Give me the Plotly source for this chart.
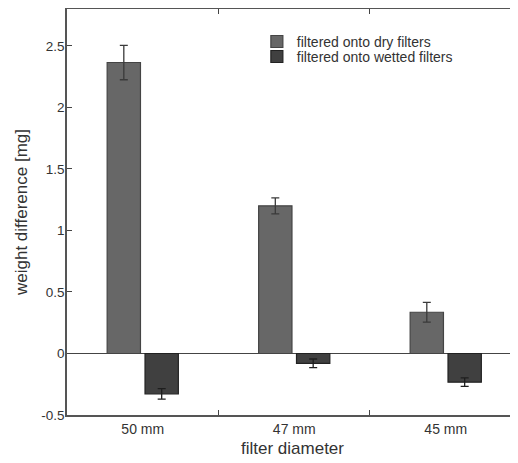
import plotly.graph_objects as go

# data
diameters = ["50 mm", "47 mm", "45 mm"]
dry_mean = [2.365, 1.20, 0.335]
dry_err = [0.14, 0.065, 0.08]
wet_mean = [-0.328, -0.08, -0.233]
wet_err = [0.043, 0.035, 0.035]
y_ticks = [-0.5, 0, 0.5, 1, 1.5, 2, 2.5]
y_ticklabels = ["-0.5", "0", "0.5", "1", "1.5", "2", "2.5"]

font = dict(family="Liberation Sans, Arial, sans-serif", size=14, color="#333333")
legend_style = dict(
    xanchor="left", yanchor="middle", bgcolor="rgba(0,0,0,0)",
    font=dict(size=14, color="#333333"), itemwidth=30,
)

fig = go.Figure()

fig.add_trace(go.Bar(
    x=diameters,
    y=dry_mean,
    name="filtered onto dry filters",
    legend="legend",
    marker=dict(color="#676767", line=dict(color="#444444", width=1.2)),
    error_y=dict(type="data", array=dry_err, color="#3a3a3a", thickness=1.3, width=4),
))

fig.add_trace(go.Bar(
    x=diameters,
    y=wet_mean,
    name="filtered onto wetted filters",
    legend="legend2",
    marker=dict(color="#404040", line=dict(color="#222222", width=1.2)),
    error_y=dict(type="data", array=wet_err, color="#1e1e1e", thickness=1.3, width=4),
))

# the page body keeps an 8px margin, so the figure is 8px smaller each way
fig.update_layout(
    width=510,
    height=455,
    margin=dict(l=59, r=0, t=1, b=48),
    barmode="group",
    bargap=0.5,
    bargroupgap=0.12,
    plot_bgcolor="white",
    paper_bgcolor="white",
    font=font,
    showlegend=True,
    legend=dict(x=0.421, y=0.919, **legend_style),
    legend2=dict(x=0.421, y=0.882, **legend_style),
)

fig.update_xaxes(
    range=[-0.5, 2.477],
    automargin=False,
    tickson="boundaries",
    ticks="inside",
    ticklen=5,
    tickcolor="#444444",
    tickfont=dict(size=14),
    showline=True,
    linecolor="#555555",
    linewidth=1.5,
    mirror="ticks",
    showgrid=False,
    title=dict(text="filter diameter", font=dict(size=17), standoff=7),
)

fig.update_yaxes(
    range=[-0.5, 2.8],
    automargin=False,
    tickvals=y_ticks,
    ticktext=y_ticklabels,
    ticks="inside",
    ticklen=5,
    tickcolor="#444444",
    tickfont=dict(size=13.5),
    ticklabelstandoff=-2,
    showline=True,
    linecolor="#555555",
    linewidth=1.5,
    mirror="ticks",
    showgrid=False,
    zeroline=True,
    zerolinecolor="#444444",
    zerolinewidth=1.3,
    title=dict(text="weight difference [mg]", font=dict(size=17), standoff=9),
)

fig.write_html("out.html")
